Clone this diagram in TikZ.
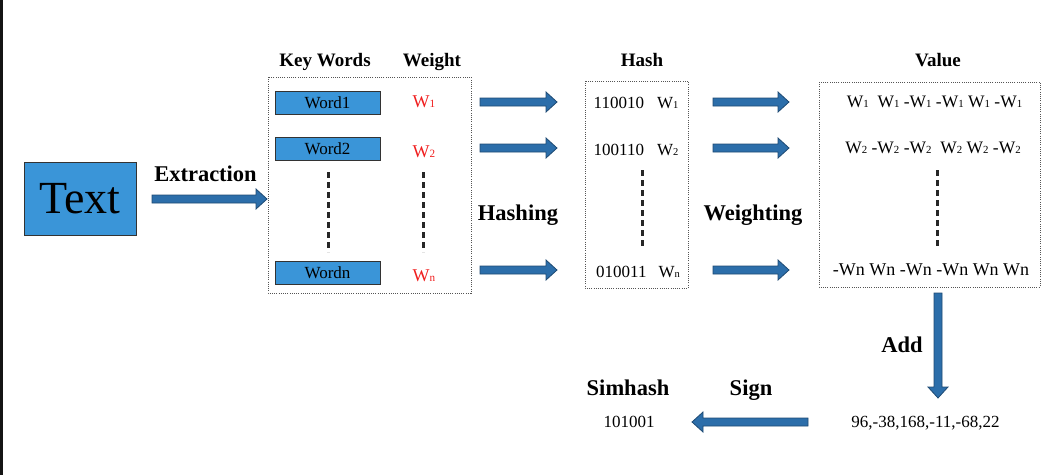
\documentclass[tikz,border=0pt]{standalone}
\usepackage{fontspec}
\setmainfont{Liberation Serif}
\usetikzlibrary{calc}
\definecolor{boxblue}{HTML}{3A95D8}
\definecolor{boxedge}{HTML}{333333}
\definecolor{arrowfill}{HTML}{2C6EAA}
\definecolor{arrowedge}{HTML}{1E4A73}
\definecolor{wred}{HTML}{F01E1E}
\definecolor{dotgray}{HTML}{555555}
\newcommand\wsb[1]{\raisebox{-0.6pt}{\scalebox{0.62}{#1}}}
\tikzset{
  bluebox/.style={draw=boxedge, line width=1pt, fill=boxblue, inner sep=0pt},
  wordbox/.style={bluebox, minimum width=105pt, minimum height=23pt, font=\rmfamily\fontsize{17}{17}\selectfont},
  header/.style={anchor=base, font=\bfseries\fontsize{19}{19}\selectfont, inner sep=0pt},
  action/.style={anchor=base, font=\bfseries\fontsize{22.5}{22.5}\selectfont, inner sep=0pt},
  plain/.style={anchor=base, font=\fontsize{17}{17}\selectfont, inner sep=0pt},
  weight/.style={anchor=base, text=wred, font=\fontsize{18}{18}\selectfont, inner sep=0pt},
  dotbox/.style={draw=dotgray, line width=0.9pt, dash pattern=on 1pt off 1.2pt},
  vdash/.style={draw=black!85, line width=3pt, dash pattern=on 6pt off 4pt},
  blockarrow/.style={fill=arrowfill, draw=arrowedge, line width=0.8pt,
    to path={
      ($(\tikztostart)!4pt!90:(\tikztotarget)$)
      -- ($($(\tikztotarget)!11pt!(\tikztostart)$)!4pt!90:(\tikztotarget)$)
      -- ($($(\tikztotarget)!11pt!(\tikztostart)$)!10pt!90:(\tikztotarget)$)
      -- (\tikztotarget)
      -- ($($(\tikztotarget)!11pt!(\tikztostart)$)!10pt!-90:(\tikztotarget)$)
      -- ($($(\tikztotarget)!11pt!(\tikztostart)$)!4pt!-90:(\tikztotarget)$)
      -- ($(\tikztostart)!4pt!-90:(\tikztotarget)$)
      -- cycle}}
}
\begin{document}
\begin{tikzpicture}[x=1pt,y=-1pt]
\useasboundingbox (0,0) rectangle (1060,475);
\fill[black!92] (0,0) rectangle (3,475);

% Text box
\node[bluebox, minimum width=112pt, minimum height=73pt, font=\fontsize{46}{46}\selectfont] (text) at (80,198.5) {Text};
\node[action] (extr) at (205.5,181.7) {Extraction};

% Key words box
\draw[dotbox] (268,77) rectangle (471,293);
\node[header] (hkw) at (325,66) {Key Words};
\node[header] (hw) at (432,66) {Weight};
\node[wordbox] (w1) at (327.5,102.5) {Word1};
\node[wordbox] (w2) at (327.5,148.5) {Word2};
\node[wordbox] (wn) at (327.5,272.5) {Wordn};
\node[weight] (r1) at (424,107) {W\wsb{1}};
\node[weight] (r2) at (424,157) {W\wsb{2}};
\node[weight] (rn) at (424,281) {W\wsb{n}};
\coordinate (kd1) at (328,172); \coordinate (kd2) at (328,252);
\coordinate (wd1) at (423,172); \coordinate (wd2) at (423,252);
\draw[vdash] (kd1) -- (kd2);
\draw[vdash] (wd1) -- (wd2);

% Hash box
\draw[dotbox] (585,81) rectangle (688,288);
\node[header] (hh) at (642,66) {Hash};
\node[plain] (h1) at (636,108) {110010\hspace{13pt}W\wsb{1}};
\node[plain] (h2) at (636,155) {100110\hspace{13pt}W\wsb{2}};
\node[plain] (hn) at (638,277) {010011\hspace{12pt}W\wsb{n}};
\coordinate (hd1) at (642,170); \coordinate (hd2) at (642,248);
\draw[vdash] (hd1) -- (hd2);
\node[action] (hashing) at (518,220) {Hashing};
\node[action] (weighting) at (753,220) {Weighting};

% Value box
\draw[dotbox] (819,82) rectangle (1040,287);
\node[header] (hv) at (938,66) {Value};
\node[plain, font=\fontsize{17.5}{17.5}\selectfont] (v1) at (934.5,107) {W\wsb{1}~~W\wsb{1} -W\wsb{1} -W\wsb{1} W\wsb{1} -W\wsb{1}};
\node[plain, font=\fontsize{17.5}{17.5}\selectfont] (v2) at (933,153) {W\wsb{2} -W\wsb{2} -W\wsb{2}~~W\wsb{2} W\wsb{2} -W\wsb{2}};
\node[plain, font=\fontsize{18}{18}\selectfont] (vn) at (931,275) {-Wn Wn -Wn -Wn Wn Wn};
\coordinate (vd1) at (937,170); \coordinate (vd2) at (937,248);
\draw[vdash] (vd1) -- (vd2);

% Bottom row
\node[action] (add) at (902,352) {Add};
\node[plain] (sum) at (925.5,427) {96,-38,168,-11,-68,22};
\node[action] (sign) at (751,395) {Sign};
\node[action] (simh) at (628,395) {Simhash};
\node[plain] (simv) at (629,427) {101001};

% Arrow end points
\coordinate (ea) at (152,199); \coordinate (eb) at (267,199);
\coordinate (ha1) at (480,102); \coordinate (hb1) at (557,102);
\coordinate (ha2) at (480,148); \coordinate (hb2) at (557,148);
\coordinate (han) at (480,270); \coordinate (hbn) at (557,270);
\coordinate (ga1) at (713,102); \coordinate (gb1) at (789,102);
\coordinate (ga2) at (713,148); \coordinate (gb2) at (789,148);
\coordinate (gan) at (713,270); \coordinate (gbn) at (789,270);
\coordinate (aa) at (938,293); \coordinate (ab) at (938,398);
\coordinate (sa) at (808,422); \coordinate (sb) at (692,422);

\draw[blockarrow] (ea) to (eb);
\draw[blockarrow] (ha1) to (hb1);
\draw[blockarrow] (ha2) to (hb2);
\draw[blockarrow] (han) to (hbn);
\draw[blockarrow] (ga1) to (gb1);
\draw[blockarrow] (ga2) to (gb2);
\draw[blockarrow] (gan) to (gbn);
\draw[blockarrow] (aa) to (ab);
\draw[blockarrow] (sa) to (sb);
\end{tikzpicture}
\end{document}
